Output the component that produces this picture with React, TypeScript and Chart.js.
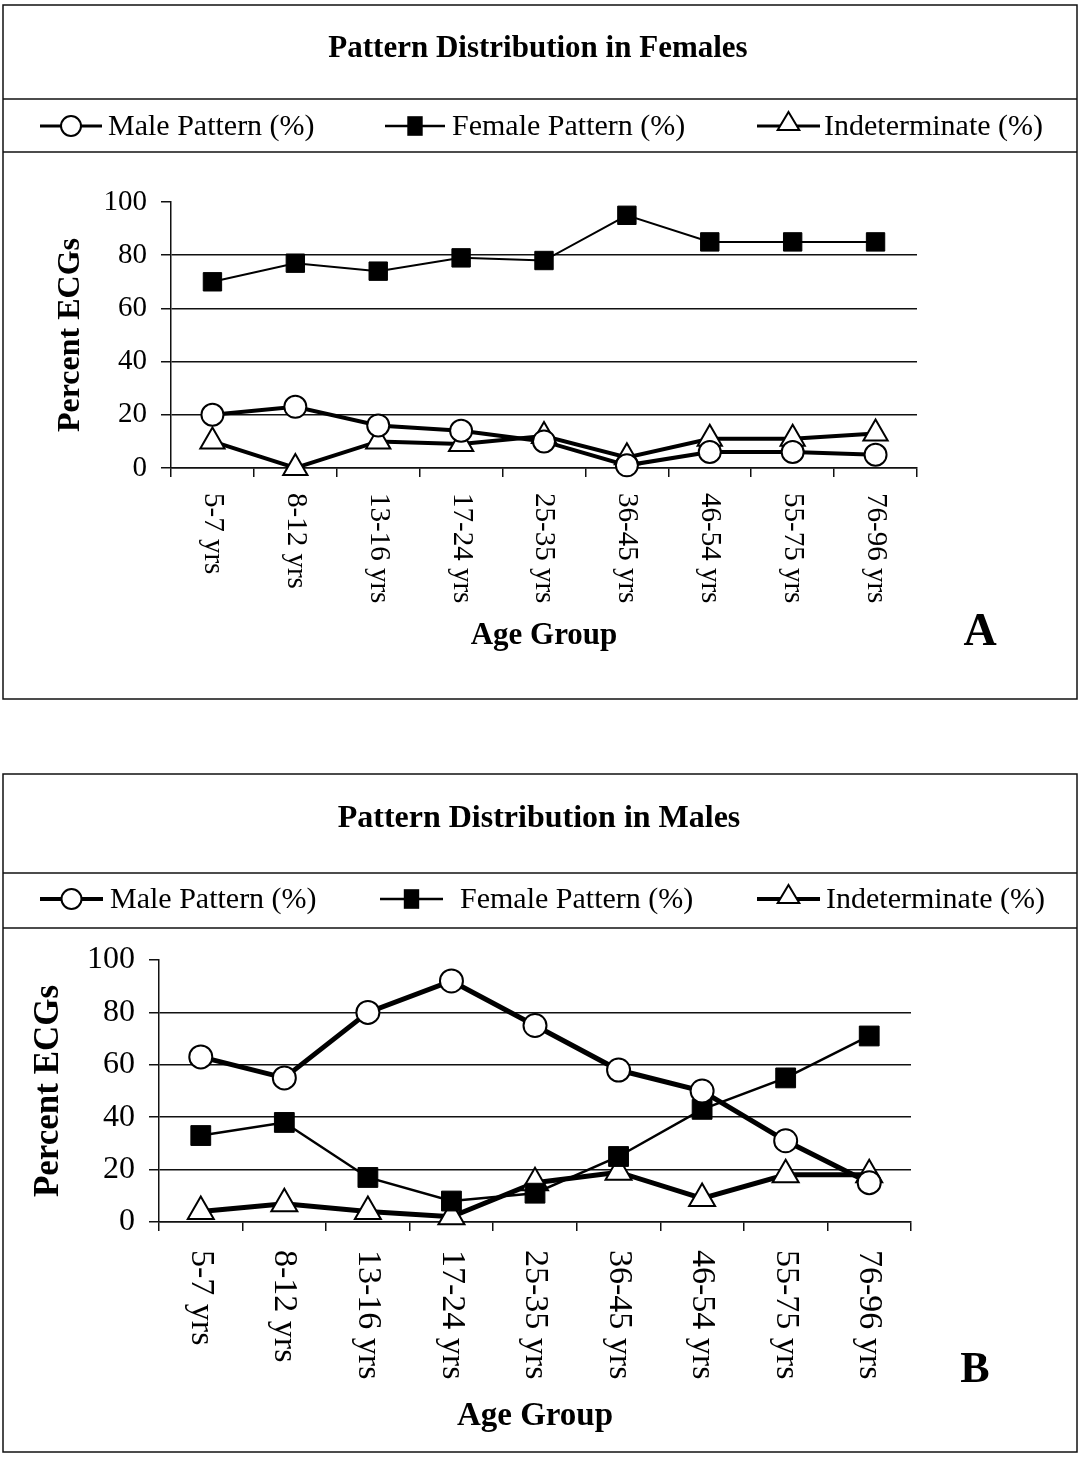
import React, { useEffect, useRef } from 'react';
import { Chart, registerables } from 'chart.js';

Chart.register(...registerables);

// ---------- data ----------
const ageGroups = ['5-7 yrs', '8-12 yrs', '13-16 yrs', '17-24 yrs', '25-35 yrs', '36-45 yrs', '46-54 yrs', '55-75 yrs', '76-96 yrs'];
const seriesNames = ['Male Pattern (%)', 'Female Pattern (%)', 'Indeterminate (%)'];

const femalesMalePattern = [20, 23, 16, 14, 10, 1, 6, 6, 5];
const femalesFemalePattern = [70, 77, 74, 79, 78, 95, 85, 85, 85];
const femalesIndeterminate = [10, 0, 10, 9, 12, 4, 11, 11, 13];

const malesMalePattern = [63, 55, 80, 92, 75, 58, 50, 31, 15];
const malesFemalePattern = [33, 38, 17, 8, 11, 25, 43, 55, 71];
const malesIndeterminate = [4, 7, 4, 2, 15, 19, 9, 18, 18];

const yMin = 0;
const yMax = 100;
const yStep = 20;

const titleFemales = 'Pattern Distribution in Females';
const titleMales = 'Pattern Distribution in Males';
const xAxisTitle = 'Age Group';
const yAxisTitle = 'Percent ECGs';

const FONT = "'Liberation Serif', 'Times New Roman', serif";
const INK = '#111';

type Panel = {
  height: number;
  frame: { x0: number; y0: number; x1: number; y1: number; rows: number[] };
  title: string;
  titleX: number;
  titleY: number;
  titleSize: number;
  legendY: number;
  legendSize: number;
  legend: { x0: number; x1: number; tx: number }[];
  area: { top: number; bottom: number; left: number; right: number };
  tickSize: number;
  xLabelSize: number;
  xLabelStart: number;
  yTitleSize: number;
  yTitlePad: number;
  xTitleSize: number;
  xTitlePad: number;
  letter: string;
  letterX: number;
  letterY: number;
  letterSize: number;
  lineW: number[];
  pointR: number[];
  series: number[][];
};

const panelA: Panel = {
  height: 740,
  frame: { x0: 3, y0: 5, x1: 1077, y1: 699, rows: [99, 152] },
  title: titleFemales,
  titleX: 538,
  titleY: 49,
  titleSize: 31,
  legendY: 126,
  legendSize: 30,
  legend: [
    { x0: 40, x1: 102, tx: 108 },
    { x0: 385, x1: 445, tx: 452 },
    { x0: 757, x1: 820, tx: 824 },
  ],
  area: { top: 202, bottom: 468, left: 171, right: 917 },
  tickSize: 29,
  xLabelSize: 29,
  xLabelStart: 493,
  yTitleSize: 32,
  yTitlePad: 52,
  xTitleSize: 31,
  xTitlePad: 85,
  letter: 'A',
  letterX: 980,
  letterY: 633,
  letterSize: 46,
  lineW: [4, 2, 4],
  pointR: [11, 13, 14],
  series: [femalesMalePattern, femalesFemalePattern, femalesIndeterminate],
};

const panelB: Panel = {
  height: 732,
  frame: { x0: 3, y0: 34, x1: 1077, y1: 712, rows: [133, 188] },
  title: titleMales,
  titleX: 539,
  titleY: 79,
  titleSize: 32,
  legendY: 159,
  legendSize: 30,
  legend: [
    { x0: 40, x1: 103, tx: 110 },
    { x0: 380, x1: 443, tx: 460 },
    { x0: 757, x1: 820, tx: 826 },
  ],
  area: { top: 220, bottom: 482, left: 159, right: 911 },
  tickSize: 32,
  xLabelSize: 34,
  xLabelStart: 510,
  yTitleSize: 35,
  yTitlePad: 28,
  xTitleSize: 33,
  xTitlePad: 36,
  letter: 'B',
  letterX: 975,
  letterY: 631,
  letterSize: 44,
  lineW: [5, 2.5, 5],
  pointR: [11.5, 14, 15],
  series: [malesMalePattern, malesFemalePattern, malesIndeterminate],
};

function drawMarker(ctx: CanvasRenderingContext2D, style: string, x: number, y: number, r: number) {
  ctx.save();
  ctx.lineWidth = 2;
  ctx.strokeStyle = '#000';
  if (style === 'circle') {
    ctx.beginPath();
    ctx.arc(x, y, r, 0, Math.PI * 2);
    ctx.fillStyle = '#fff';
    ctx.fill();
    ctx.stroke();
  } else if (style === 'rect') {
    ctx.fillStyle = '#000';
    ctx.fillRect(x - r * 0.55, y - r * 0.7, r * 1.1, r * 1.4);
  } else {
    ctx.beginPath();
    ctx.moveTo(x, y - r);
    ctx.lineTo(x + r * 0.9, y + r * 0.5);
    ctx.lineTo(x - r * 0.9, y + r * 0.5);
    ctx.closePath();
    ctx.fillStyle = '#fff';
    ctx.fill();
    ctx.stroke();
  }
  ctx.restore();
}

function makeDecor(L: Panel) {
  return {
    id: 'panelDecor',
    beforeDraw(chart: any) {
      const ctx: CanvasRenderingContext2D = chart.ctx;
      ctx.save();
      ctx.fillStyle = '#fff';
      ctx.fillRect(0, 0, chart.width, chart.height);
      ctx.strokeStyle = INK;
      ctx.lineWidth = 1.5;
      const f = L.frame;
      ctx.strokeRect(f.x0, f.y0, f.x1 - f.x0, f.y1 - f.y0);
      f.rows.forEach((ry) => {
        ctx.beginPath();
        ctx.moveTo(f.x0, ry);
        ctx.lineTo(f.x1, ry);
        ctx.stroke();
      });
      // title
      ctx.fillStyle = '#000';
      ctx.font = `bold ${L.titleSize}px ${FONT}`;
      ctx.textAlign = 'center';
      ctx.textBaseline = 'middle';
      ctx.fillText(L.title, L.titleX, L.titleY);
      // legend
      ctx.font = `${L.legendSize}px ${FONT}`;
      ctx.textAlign = 'left';
      chart.data.datasets.forEach((ds: any, i: number) => {
        const it = L.legend[i];
        ctx.strokeStyle = '#000';
        ctx.lineWidth = Math.max(2.5, ds.borderWidth - 1);
        ctx.beginPath();
        ctx.moveTo(it.x0, L.legendY);
        ctx.lineTo(it.x1, L.legendY);
        ctx.stroke();
        const cx = (it.x0 + it.x1) / 2;
        const r = ds.pointStyle === 'circle' ? 10 : ds.pointStyle === 'rect' ? 14 : 12;
        drawMarker(ctx, ds.pointStyle, cx, ds.pointStyle === 'triangle' ? L.legendY - 2 : L.legendY, r);
        ctx.fillStyle = '#000';
        ctx.fillText(ds.label, it.tx, L.legendY + 1);
      });
      ctx.restore();
    },
    afterDraw(chart: any) {
      const ctx: CanvasRenderingContext2D = chart.ctx;
      const xs = chart.scales.x;
      ctx.save();
      ctx.fillStyle = '#000';
      ctx.font = `${L.xLabelSize}px ${FONT}`;
      ctx.textAlign = 'left';
      ctx.textBaseline = 'middle';
      (chart.data.labels as string[]).forEach((lab, i) => {
        const x = xs.getPixelForTick(i);
        ctx.save();
        ctx.translate(x, L.xLabelStart);
        ctx.rotate(Math.PI / 2);
        ctx.fillText(lab, 0, 0);
        ctx.restore();
      });
      ctx.font = `bold ${L.letterSize}px ${FONT}`;
      ctx.textAlign = 'center';
      ctx.fillText(L.letter, L.letterX, L.letterY);
      ctx.restore();
    },
  };
}

function PanelChart({ L }: { L: Panel }) {
  const ref = useRef<HTMLCanvasElement | null>(null);
  useEffect(() => {
    if (!ref.current) return;
    const styles = ['circle', 'rect', 'triangle'];
    const fills = ['#fff', '#000', '#fff'];
    const chart = new Chart(ref.current, {
      type: 'line',
      data: {
        labels: ageGroups,
        datasets: L.series.map((d, i) => ({
          label: seriesNames[i],
          data: d,
          borderColor: '#000',
          borderWidth: L.lineW[i],
          pointStyle: styles[i],
          pointRadius: L.pointR[i],
          pointBackgroundColor: fills[i],
          pointBorderColor: '#000',
          pointBorderWidth: i === 1 ? 1 : 2,
          tension: 0,
          fill: false,
          clip: false,
        })) as any,
      },
      options: {
        responsive: false,
        animation: false,
        devicePixelRatio: 1,
        events: [],
        layout: { padding: { top: L.area.top, left: 0, right: 1080 - L.area.right, bottom: 0 } },
        plugins: {
          legend: { display: false },
          title: { display: false },
          tooltip: { enabled: false },
        },
        scales: {
          x: {
            type: 'category',
            offset: true,
            grid: { offset: true, drawOnChartArea: false, drawTicks: true, tickLength: 9, color: INK, tickColor: INK, lineWidth: 1.5 },
            border: { display: true, color: INK, width: 1.5 },
            ticks: { display: false },
            title: {
              display: true,
              text: xAxisTitle,
              color: '#000',
              font: { family: FONT, size: L.xTitleSize, weight: 'bold' },
              padding: { top: 0, bottom: L.xTitlePad },
            },
            afterFit: (s: any) => {
              s.height = L.height - L.area.bottom;
            },
          },
          y: {
            type: 'linear',
            min: yMin,
            max: yMax,
            ticks: {
              stepSize: yStep,
              color: '#000',
              padding: 14,
              font: { family: FONT, size: L.tickSize },
            },
            grid: {
              color: (c: any) => (c.tick && c.tick.value === yMax ? 'rgba(0,0,0,0)' : INK),
              tickColor: INK,
              lineWidth: 1.5,
              tickLength: 10,
              drawTicks: true,
            },
            border: { display: true, color: INK, width: 1.5 },
            title: {
              display: true,
              text: yAxisTitle,
              color: '#000',
              font: { family: FONT, size: L.yTitleSize, weight: 'bold' },
              padding: { top: L.yTitlePad, bottom: 0 },
            },
            afterFit: (s: any) => {
              s.width = L.area.left;
            },
          },
        },
      } as any,
      plugins: [makeDecor(L)],
    });
    return () => chart.destroy();
  }, [L]);
  return <canvas ref={ref} width={1080} height={L.height} style={{ display: 'block', width: 1080, height: L.height }} />;
}

export default function App() {
  return (
    <div style={{ position: 'absolute', left: 0, top: 0, width: 1080, height: 1472, background: '#fff', overflow: 'hidden' }}>
      <PanelChart L={panelA} />
      <PanelChart L={panelB} />
    </div>
  );
}
